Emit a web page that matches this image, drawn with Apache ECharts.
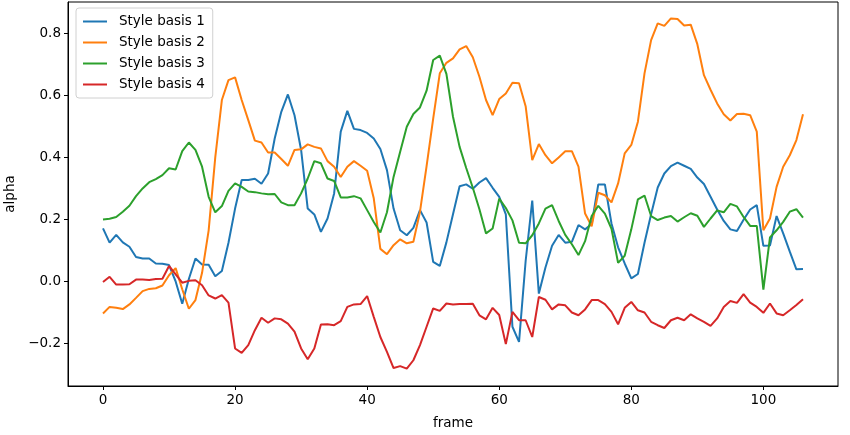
<!DOCTYPE html>
<html>
<head>
<meta charset="utf-8">
<script src="https://cdn.jsdelivr.net/npm/echarts@6/dist/echarts.min.js"></script>
<style>html,body{margin:0;padding:0;background:#fff}#c{width:850px;height:435px}</style>
</head>
<body>
<div id="c"></div>
<script>
const seriesNames = ["Style basis 1", "Style basis 2", "Style basis 3", "Style basis 4"];
const colors = ["#1f77b4", "#ff7f0e", "#2ca02c", "#d62728"];
const xTicks = [0, 20, 40, 60, 80, 100];
const yTicks = [-0.2, 0.0, 0.2, 0.4, 0.6, 0.8];
const frames = [0,1,2,3,4,5,6,7,8,9,10,11,12,13,14,15,16,17,18,19,20,21,22,23,24,25,26,27,28,29,30,31,32,33,34,35,36,37,38,39,40,41,42,43,44,45,46,47,48,49,50,51,52,53,54,55,56,57,58,59,60,61,62,63,64,65,66,67,68,69,70,71,72,73,74,75,76,77,78,79,80,81,82,83,84,85,86,87,88,89,90,91,92,93,94,95,96,97,98,99,100,101,102,103,104,105,106];
const basis1 = [0.171,0.125,0.150,0.126,0.112,0.079,0.074,0.074,0.058,0.057,0.053,0.000,-0.072,0.008,0.074,0.055,0.054,0.017,0.034,0.125,
  0.235,0.327,0.327,0.331,0.315,0.348,0.461,0.547,0.603,0.536,0.424,0.235,0.216,0.160,0.203,0.284,0.483,0.550,0.492,0.488,
  0.479,0.461,0.427,0.359,0.235,0.165,0.149,0.173,0.230,0.190,0.063,0.050,0.126,0.217,0.307,0.313,0.299,0.319,0.333,0.302,
  0.273,0.216,-0.146,-0.195,0.066,0.261,-0.039,0.045,0.115,0.150,0.125,0.128,0.182,0.168,0.185,0.313,0.313,0.187,0.110,0.058,
  0.010,0.024,0.125,0.217,0.303,0.348,0.372,0.383,0.373,0.363,0.335,0.314,0.273,0.232,0.195,0.168,0.163,0.199,0.232,0.246,
  0.115,0.116,0.211,0.155,0.096,0.039,0.040];
const basis2 = [-0.103,-0.082,-0.085,-0.089,-0.074,-0.053,-0.031,-0.024,-0.022,-0.013,0.020,0.043,-0.025,-0.088,-0.060,0.028,0.165,0.400,0.585,0.649,
  0.658,0.585,0.520,0.454,0.448,0.416,0.416,0.395,0.373,0.424,0.426,0.442,0.434,0.429,0.388,0.370,0.337,0.370,0.388,0.373,
  0.357,0.268,0.105,0.088,0.117,0.136,0.123,0.128,0.225,0.372,0.525,0.671,0.705,0.719,0.748,0.759,0.723,0.660,0.585,0.536,
  0.588,0.606,0.641,0.639,0.565,0.391,0.443,0.407,0.381,0.400,0.420,0.420,0.370,0.219,0.178,0.286,0.278,0.255,0.316,0.413,
  0.440,0.515,0.671,0.778,0.832,0.824,0.848,0.846,0.825,0.828,0.765,0.665,0.618,0.574,0.539,0.519,0.540,0.541,0.536,0.483,
  0.165,0.203,0.305,0.370,0.407,0.456,0.539];
const basis3 = [0.200,0.202,0.208,0.225,0.244,0.275,0.300,0.320,0.330,0.343,0.365,0.361,0.420,0.448,0.424,0.370,0.273,0.223,0.243,0.292,
  0.316,0.305,0.290,0.288,0.284,0.281,0.282,0.255,0.246,0.246,0.284,0.332,0.388,0.381,0.332,0.324,0.271,0.271,0.275,0.268,
  0.230,0.192,0.158,0.223,0.337,0.418,0.499,0.540,0.561,0.615,0.714,0.728,0.669,0.531,0.434,0.366,0.302,0.233,0.155,0.171,
  0.267,0.237,0.197,0.125,0.123,0.149,0.187,0.235,0.246,0.195,0.150,0.120,0.085,0.130,0.211,0.244,0.219,0.170,0.060,0.083,
  0.168,0.265,0.277,0.211,0.198,0.206,0.211,0.193,0.207,0.220,0.212,0.176,0.203,0.229,0.223,0.250,0.242,0.208,0.179,0.179,
  -0.026,0.142,0.165,0.192,0.225,0.233,0.206];
const basis4 = [-0.002,0.015,-0.010,-0.010,-0.009,0.006,0.006,0.005,0.008,0.009,0.050,0.023,-0.004,0.002,0.004,-0.012,-0.045,-0.055,-0.044,-0.068,
  -0.216,-0.230,-0.205,-0.157,-0.117,-0.133,-0.119,-0.122,-0.136,-0.162,-0.216,-0.251,-0.216,-0.139,-0.138,-0.141,-0.128,-0.082,-0.074,-0.073,
  -0.047,-0.114,-0.179,-0.227,-0.279,-0.273,-0.281,-0.254,-0.205,-0.146,-0.087,-0.095,-0.071,-0.074,-0.073,-0.073,-0.072,-0.109,-0.122,-0.085,
  -0.108,-0.202,-0.098,-0.125,-0.125,-0.179,-0.050,-0.059,-0.090,-0.074,-0.077,-0.100,-0.109,-0.090,-0.060,-0.060,-0.073,-0.098,-0.138,-0.085,
  -0.066,-0.093,-0.100,-0.130,-0.141,-0.150,-0.125,-0.117,-0.125,-0.106,-0.119,-0.130,-0.143,-0.119,-0.082,-0.063,-0.069,-0.041,-0.068,-0.082,
  -0.101,-0.071,-0.103,-0.109,-0.093,-0.076,-0.057];
const allSeries = [basis1, basis2, basis3, basis4];

const font = "DejaVu Sans";
const chart = echarts.init(document.getElementById('c'), null, {renderer: 'canvas'});
chart.setOption({
  animation: false,
  backgroundColor: '#fff',
  grid: {left: 68, right: 12, top: 2, bottom: 49, outerBoundsMode: 'none', containLabel: false,
    show: true, borderColor: '#000', borderWidth: 1, backgroundColor: 'transparent'},
  xAxis: {
    type: 'value', min: -5.3, max: 111.3,
    name: 'frame', nameLocation: 'middle', nameGap: 30,
    nameTextStyle: {fontFamily: font, fontSize: 13.5, color: '#000'},
    axisLine: {show: true, onZero: false, lineStyle: {color: '#000', width: 1}},
    axisTick: {show: true, length: 4, lineStyle: {color: '#000'}, customValues: xTicks},
    axisLabel: {fontFamily: font, fontSize: 13.5, color: '#000', margin: 7, customValues: xTicks, formatter: v => String(v)},
    splitLine: {show: false}
  },
  yAxis: {
    type: 'value', min: -0.337, max: 0.901,
    name: 'alpha', nameLocation: 'middle', nameGap: 51, nameRotate: 90,
    nameTextStyle: {fontFamily: font, fontSize: 13.5, color: '#000'},
    axisLine: {show: true, onZero: false, lineStyle: {color: '#000', width: 1}},
    axisTick: {show: true, length: 4, lineStyle: {color: '#000'}, customValues: yTicks},
    axisLabel: {fontFamily: font, fontSize: 13.5, color: '#000', margin: 7, customValues: yTicks,
      formatter: v => (v < 0 ? '\u2212' : '') + Math.abs(v).toFixed(1)},
    splitLine: {show: false}
  },
  legend: {
    orient: 'vertical', left: 76, top: 8,
    padding: [6, 8, 6, 7], itemGap: 6, itemWidth: 24, itemHeight: 2, icon: 'rect',
    borderColor: '#d0d0d0', borderWidth: 1, borderRadius: 3, backgroundColor: 'rgba(255,255,255,0.8)',
    textStyle: {fontFamily: font, fontSize: 13.5, color: '#000', padding: [0, 0, 0, 7], lineHeight: 15}
  },
  series: allSeries.map((arr, k) => ({
    name: seriesNames[k], type: 'line', symbol: 'none', color: colors[k],
    lineStyle: {width: 2, color: colors[k]},
    data: arr.map((v, i) => [frames[i], v])
  }))
});
</script>
</body>
</html>
